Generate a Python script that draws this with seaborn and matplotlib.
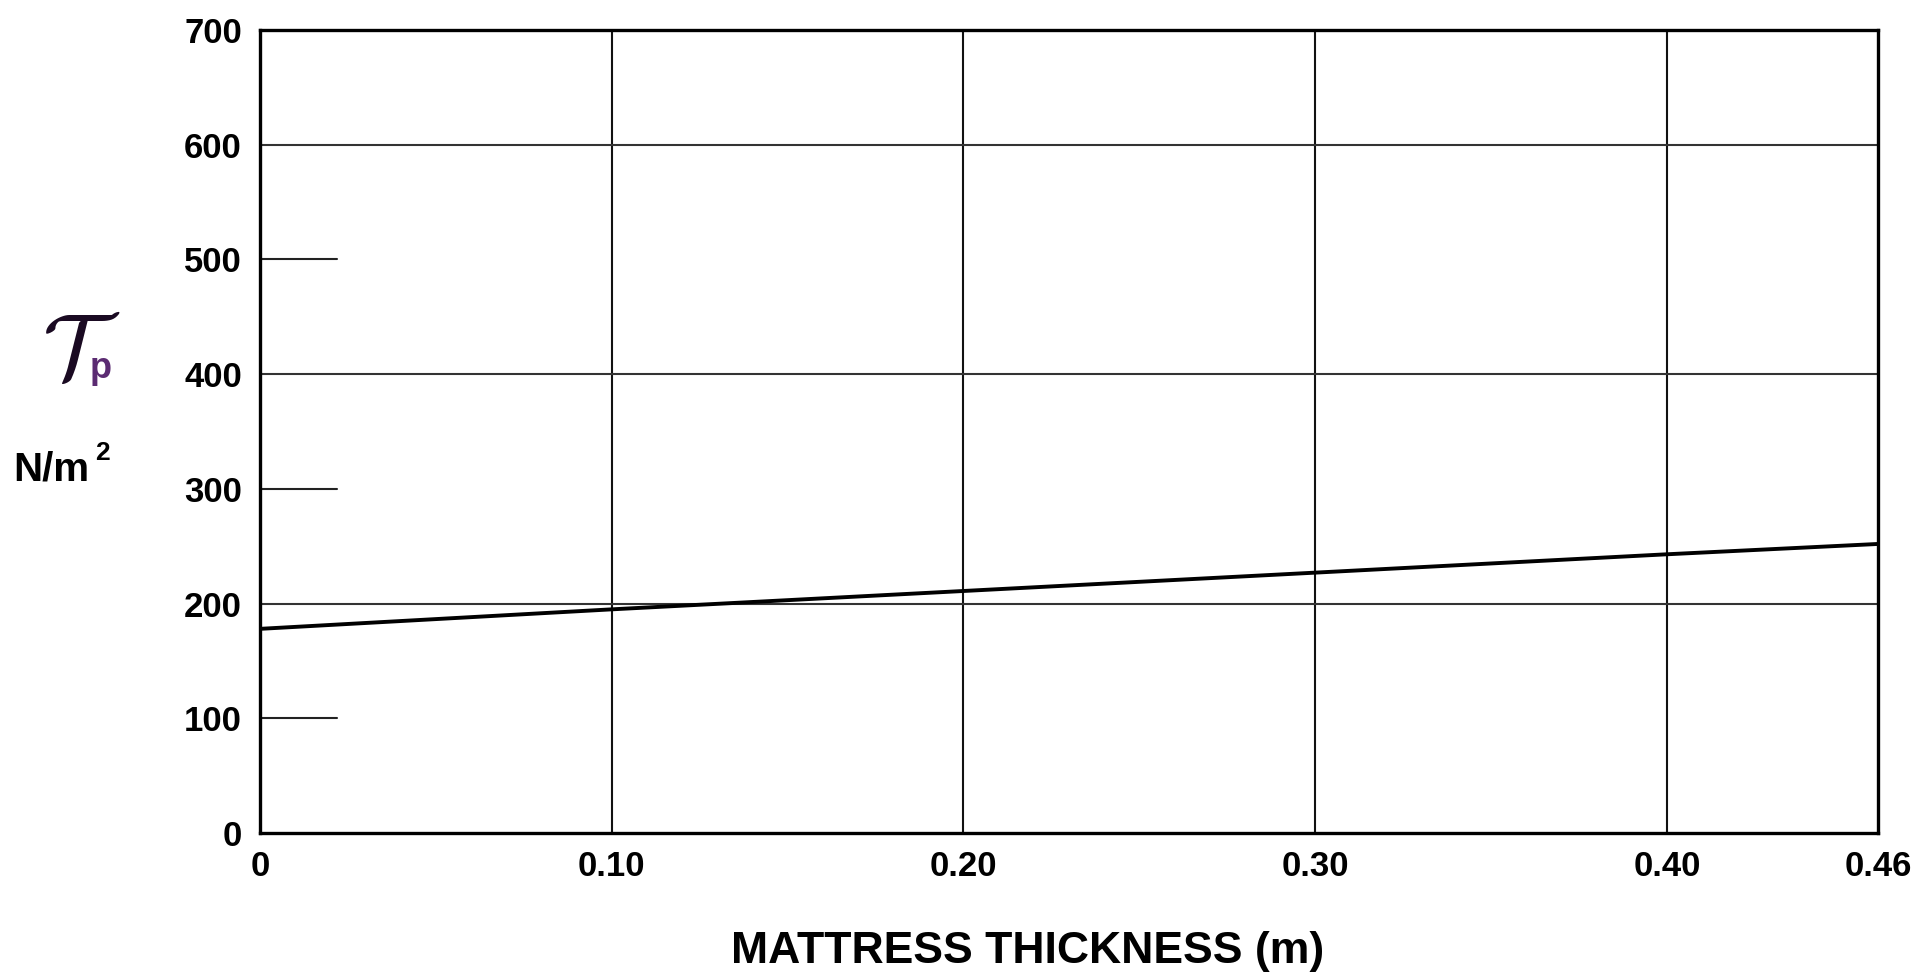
import numpy as np
import pandas as pd
import seaborn as sb
import matplotlib.pyplot as plt

# curve
thickness = [0.0, 0.10, 0.20, 0.30, 0.40, 0.46]
tau_p = [178, 195, 211, 227, 243, 252]

x_ticks = [0, 0.10, 0.20, 0.30, 0.40, 0.46]
x_labels = ['0', '0.10', '0.20', '0.30', '0.40', '0.46']
y_ticks = [0, 100, 200, 300, 400, 500, 600, 700]
v_grid = [0.10, 0.20, 0.30, 0.40]
h_grid = [200, 400, 600]
h_stubs = [100, 300, 500]
stub_end = 0.022

sb.set_style('white')
plt.rcParams['font.family'] = ['Liberation Sans', 'DejaVu Sans']
plt.rcParams['mathtext.fontset'] = 'cm'
plt.rcParams['text.color'] = 'black'
plt.rcParams['xtick.color'] = 'black'
plt.rcParams['ytick.color'] = 'black'
plt.rcParams['axes.labelcolor'] = 'black'

data = pd.DataFrame({'thickness': thickness, 'tau': tau_p})

f = plt.figure(figsize=(19.23, 9.75), dpi=100)
ax = f.add_axes([0.1352, 0.1456, 0.8414, 0.8236])

for v in v_grid:
    ax.axvline(v, color='#111111', lw=1.5, zorder=1)
for h in h_grid:
    ax.axhline(h, color='#333333', lw=1.5, zorder=1)
for h in h_stubs:
    ax.plot([0, stub_end], [h, h], color='#222222', lw=1.5, zorder=1)

sb.lineplot(data=data, x='thickness', y='tau', color='black', lw=2.8, ax=ax, zorder=3)

ax.set_xlim(0, 0.46)
ax.set_ylim(0, 700)
ax.set_xticks(x_ticks)
ax.set_xticklabels(x_labels)
ax.set_yticks(y_ticks)
for s in ax.spines.values():
    s.set_linewidth(2.4)
    s.set_color('black')
ax.tick_params(length=0, labelsize=25)
ax.tick_params(axis='x', pad=12)
ax.tick_params(axis='y', pad=13)
for lab in ax.get_xticklabels() + ax.get_yticklabels():
    lab.set_fontweight('bold')

ax.set_xlabel('')
ax.set_ylabel('')
f.text(0.5345, 0.012, 'MATTRESS THICKNESS (m)', fontsize=32, fontweight='bold',
       ha='center', va='baseline')

f.text(0.0625, 0.637, r'$\mathcal{T}$', fontsize=66, color='#1a0a22', ha='right', va='center')
f.text(0.0465, 0.622, 'p', fontsize=26, color='#5b2b72', fontweight='bold', ha='left', va='center')
f.text(0.007, 0.507, 'N/m', fontsize=29, fontweight='bold', ha='left', va='baseline')
f.text(0.0495, 0.528, '2', fontsize=19, fontweight='bold', ha='left', va='baseline')

f.savefig('out.png', dpi=100, facecolor='white')
